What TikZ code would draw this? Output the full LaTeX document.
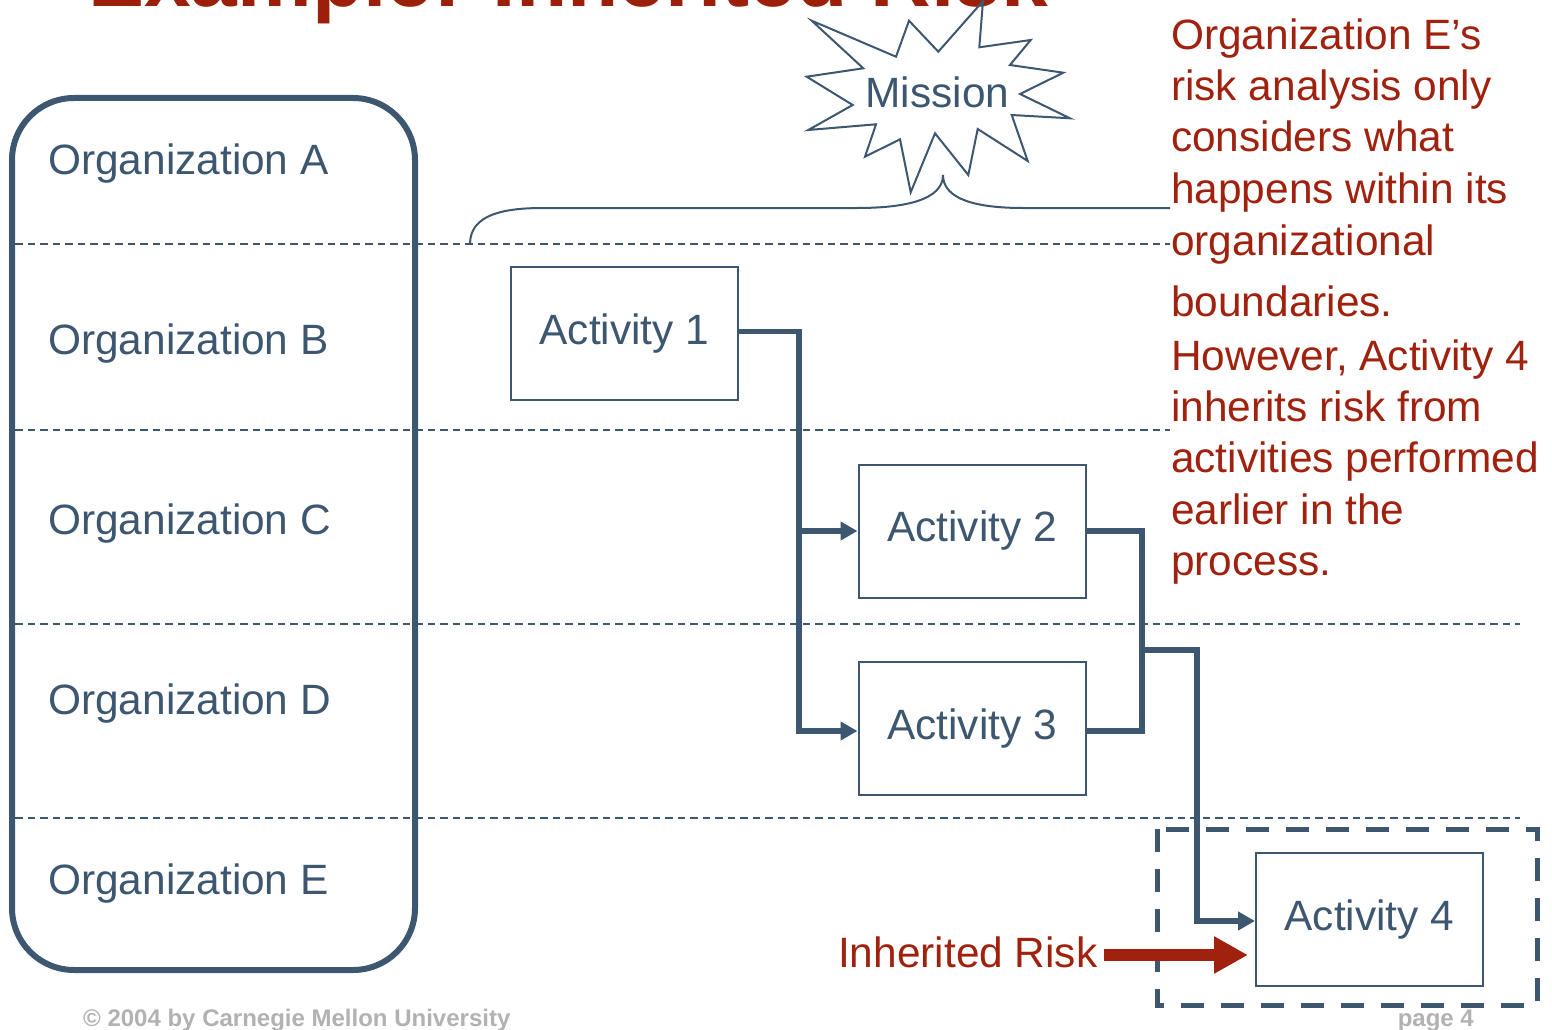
\documentclass[tikz,border=0pt]{standalone}
\usepackage{fontspec}
\setmainfont{Liberation Sans}
\usetikzlibrary{arrows.meta}
\definecolor{slate}{RGB}{61,87,112}
\definecolor{brick}{RGB}{160,34,14}
\definecolor{titlered}{RGB}{156,31,10}
\definecolor{footgray}{RGB}{178,178,178}

\begin{document}
\begin{tikzpicture}[x=1pt,y=-1pt,
  bigtext/.style={font=\fontsize{42.4}{50}\selectfont},
  orglabel/.style={bigtext, anchor=base west, text=slate, inner sep=0pt},
  actbox/.style={bigtext, text=slate, draw=slate, line width=2pt, fill=white,
    minimum width=227pt, minimum height=133pt, inner sep=0pt},
  lane/.style={draw=slate, line width=1.6pt, dash pattern=on 7.5pt off 5pt},
  flow/.style={draw=slate, line width=5.5pt, line join=miter},
  flowarrow/.style={flow, -{Triangle[length=17pt,width=18pt]}},
  note/.style={bigtext, anchor=base west, text=brick, inner sep=0pt},
  footer/.style={font=\bfseries\fontsize{24}{28}\selectfont, text=footgray, inner sep=0pt},
]
\useasboundingbox (0,0) rectangle (1552,1030);
\clip (0,0) rectangle (1552,1030);
\fill[white] (0,0) rectangle (1552,1030);

% title (runs off the top edge)
\node[anchor=base west, text=titlered, font=\bfseries\fontsize{84}{90}\selectfont, inner sep=0pt]
  (title) at (88,7) {Example: Inherited Risk};

% swim-lane separators
\draw[lane] (15,244) -- (1170,244);
\draw[lane] (15,430) -- (1170,430);
\draw[lane] (15,624) -- (1520,624);
\draw[lane] (15,818) -- (1520,818);

% organizations
\draw[slate, line width=6pt, rounded corners=62pt] (12,98) rectangle (415,970);
\node[orglabel] (orgA) at (48,174) {Organization A};
\node[orglabel] (orgB) at (48,354) {Organization B};
\node[orglabel] (orgC) at (48,534) {Organization C};
\node[orglabel] (orgD) at (48,714) {Organization D};
\node[orglabel] (orgE) at (48,894) {Organization E};

% brace under the mission
\draw[slate, line width=2pt]
  (470,244) .. controls (470,214) and (505,208) .. (543,208) -- (857,208)
  .. controls (905,208) and (943,200) .. (943,175)
  .. controls (943,200) and (978,208) .. (1023,208) -- (1170,208);

% mission starburst
\draw[slate, line width=2pt]
  (811.7,20.7) -- (896,56.7) -- (909,20.7) -- (938.3,51.7) -- (983,1) --
  (979.3,47.3) -- (1030.7,40) -- (1010,65) -- (1063.3,72.7) -- (1020,94) --
  (1070,118.3) -- (1011.7,115) -- (1027.7,161) -- (977.7,129) -- (968.3,175) --
  (935,133.3) -- (910.7,192.3) -- (900,139.3) -- (865,156.7) -- (876,124.3) --
  (808.3,130) -- (852.7,105) -- (806.7,76.7) -- (863.3,68.3) -- cycle;
\node[bigtext, text=slate, anchor=base, inner sep=0pt] (mission) at (937.5,108) {Mission};

% activities
\node[actbox] (a1) at (624.5,333.5) {Activity 1};
\node[actbox] (a2) at (972,531) {Activity 2};
\node[actbox] (a3) at (972,728.5) {Activity 3};
\node[actbox] (a4) at (1369.5,919.5) {Activity 4};

% boundary of organization E's analysis
\draw[slate, line width=5pt, dash pattern=on 23pt off 17pt] (1157,829) rectangle (1537,1005);

% process flow
\coordinate (bus1) at (799,531);
\coordinate (bus2) at (1142,650);
\draw[flowarrow] ([yshift=2pt]a1.east) -| (bus1) |- ([yshift=-2.5pt]a3.west);
\draw[flowarrow] (bus1) -- (a2.west);
\draw[flow] (a2.east) -| (bus2) |- ([yshift=-2.5pt]a3.east);
\draw[flowarrow] (bus2) -| (1197,800) |- ([yshift=-1.5pt]a4.west);

% inherited risk
\node[bigtext, anchor=base west, text=brick, inner sep=0pt] (risk) at (838,967) {Inherited Risk};
\draw[brick, line width=12.4pt, -{Triangle[length=34pt,width=35pt]}]
  ([shift={(6pt,12pt)}]risk.base east) -- ([shift={(-7pt,-35.5pt)}]a4.west);

% explanation
\node[note] (t1)  at (1171,50)    {Organization E’s};
\node[note] (t2)  at (1171,100.7) {risk analysis only};
\node[note] (t3)  at (1171,151.7) {considers what};
\node[note] (t4)  at (1171,203.3) {happens within its};
\node[note] (t5)  at (1171,255)   {organizational};
\node[note] (t6)  at (1171,316.7) {boundaries.};
\node[note] (t7)  at (1171,370.7) {However, Activity 4};
\node[note] (t8)  at (1171,421.7) {inherits risk from};
\node[note] (t9)  at (1171,472.7) {activities performed};
\node[note] (t10) at (1171,524)   {earlier in the};
\node[note] (t11) at (1171,575)   {process.};

% footer
\node[footer, anchor=base west] (copy) at (83,1026) {© 2004 by Carnegie Mellon University};
\node[footer, anchor=base east] (page) at (1474,1026) {page 4};
\end{tikzpicture}
\end{document}
